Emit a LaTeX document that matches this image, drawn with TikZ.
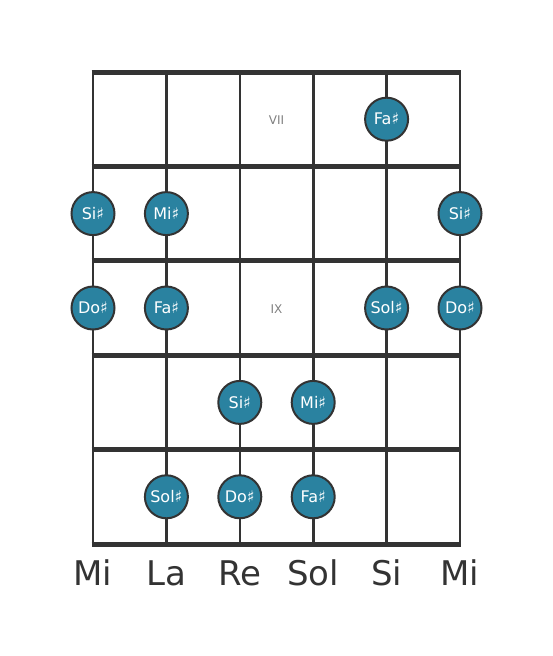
\documentclass[tikz,border=0pt]{standalone}
\usepackage{fontspec}
\setmainfont{DejaVu Sans}
\definecolor{notefill}{RGB}{42,130,160}
\definecolor{gridline}{RGB}{51,51,51}

\begin{document}
\begin{tikzpicture}[x=1pt, y=-1pt,
    fretline/.style = {draw=gridline, line width=5pt},
    stringline/.style = {draw=gridline, line width=2.6pt},
    note/.style = {circle, draw=gridline, line width=2pt, fill=notefill, minimum size=43pt, inner sep=0pt, text=white, font=\fontsize{16}{16}\selectfont},
    fretnum/.style = {text=gray, font=\fontsize{12}{12}\selectfont},
    stringname/.style = {text=gridline, font=\fontsize{34}{34}\selectfont}]
    \useasboundingbox (0,0) rectangle (553,656);
    % strings
    \foreach \name [count=\i from 0] in {Mi,La,Re,Sol,Si,Mi} {
        \coordinate (top\i) at ({93+73.4*\i},72);
        \coordinate (bot\i) at ({93+73.4*\i},544);
        \draw[stringline] (top\i) -- (bot\i);
        \node[stringname] (name\i) at ({93+73.4*\i},573) {\name};
    }
    % frets
    \foreach \f in {0,...,5} {
        \coordinate (left\f) at (91.7,{72+94.4*\f});
        \coordinate (right\f) at (461.3,{72+94.4*\f});
        \draw[fretline] (left\f) -- (right\f);
    }
    \node[fretnum] (vii) at (276.5,120) {VII};
    \node[fretnum] (ix) at (276.5,309) {IX};
    % notes: string/fret/name
    \foreach \s/\f/\t in {4/0/Fa, 0/1/Si, 1/1/Mi, 5/1/Si, 0/2/Do, 1/2/Fa, 4/2/Sol, 5/2/Do,
                          2/3/Si, 3/3/Mi, 1/4/Sol, 2/4/Do, 3/4/Fa} {
        \node[note] (n\s\f) at ({93+73.4*\s},{119.2+94.4*\f}) {\t♯};
    }
\end{tikzpicture}
\end{document}
